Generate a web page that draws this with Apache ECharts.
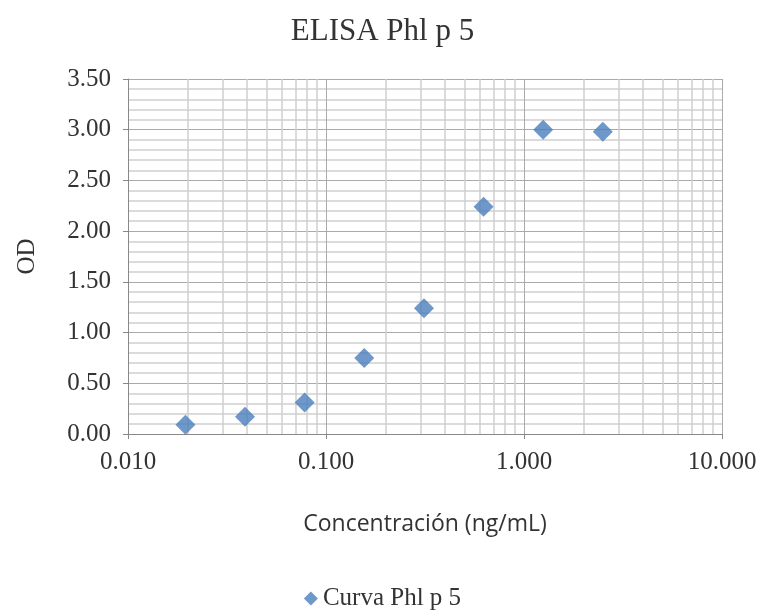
<!DOCTYPE html>
<html><head><meta charset="utf-8">
<script src="https://cdn.jsdelivr.net/npm/echarts@6/dist/echarts.min.js"></script>
<style>html,body{margin:0;padding:0;background:#fff}#c{width:765px;height:611px}</style>
</head><body><div id="c"></div>
<script>
const concentrations = [0.0195, 0.039, 0.078, 0.156, 0.3125, 0.625, 1.25, 2.5];
const odValues = [0.09, 0.17, 0.31, 0.75, 1.24, 2.24, 3.00, 2.98];
const minorXLines = [0.02,0.03,0.04,0.05,0.06,0.07,0.08,0.09,0.2,0.3,0.4,0.5,0.6,0.7,0.8,0.9,2,3,4,5,6,7,8,9];
const seriesName = 'Curva Phl p 5';
const serif = '"Liberation Serif", "DejaVu Serif", serif';
const chart = echarts.init(document.getElementById('c'));
chart.setOption({
  animation: false,
  backgroundColor: '#fff',
  title: { text: 'ELISA Phl p 5', left: 'center', top: 11,
    textStyle: { fontFamily: serif, fontSize: 31, fontWeight: 'normal', color: '#333' } },
  legend: { top: 581, left: 'center', icon: 'diamond', itemWidth: 14, itemHeight: 14, itemGap: 4,
    textStyle: { fontFamily: serif, fontSize: 25, color: '#333' }, data: [seriesName] },
  grid: { left: 128, right: 43, top: 79, bottom: 177 },
  xAxis: { type: 'log', logBase: 10, min: 0.01, max: 10,
    name: 'Concentración (ng/mL)', nameLocation: 'middle', nameGap: 79,
    nameTextStyle: { fontFamily: '"Open Sans", "Liberation Sans", sans-serif', fontSize: 23, color: '#333' },
    axisLine: { show: true, lineStyle: { color: '#888' } },
    axisTick: { show: true, length: 5, lineStyle: { color: '#888' } },
    axisLabel: { fontFamily: serif, fontSize: 25, color: '#333', margin: 16,
      formatter: v => Number(v).toFixed(3) },
    splitLine: { show: true, lineStyle: { color: '#aaa', width: 1 } },
    minorTick: { show: false }, minorSplitLine: { show: false } },
  yAxis: { type: 'value', min: 0, max: 3.5, interval: 0.5,
    name: 'OD', nameLocation: 'middle', nameGap: 88,
    nameTextStyle: { fontFamily: serif, fontSize: 25, color: '#333' },
    axisLine: { show: true, lineStyle: { color: '#888' } },
    axisTick: { show: true, length: 5, lineStyle: { color: '#888' } },
    axisLabel: { fontFamily: serif, fontSize: 25, color: '#333', margin: 17,
      formatter: v => v.toFixed(2) },
    splitLine: { show: true, lineStyle: { color: '#aaa', width: 1 } },
    minorTick: { show: false, splitNumber: 5 },
    minorSplitLine: { show: true, lineStyle: { color: '#d0d0d0', width: 1.5 } } },
  series: [{
    name: seriesName, type: 'scatter', symbol: 'diamond', symbolSize: 20,
    itemStyle: { color: '#4a7ebb' },
    data: concentrations.map((c, i) => [c, odValues[i]]),
    markLine: { silent: true, symbol: 'none', animation: false,
      label: { show: false },
      lineStyle: { color: '#cfcfcf', width: 1.5, type: 'solid' },
      data: minorXLines.map(v => ({ xAxis: v })) },
    z: 5
  }]
});
</script></body></html>
